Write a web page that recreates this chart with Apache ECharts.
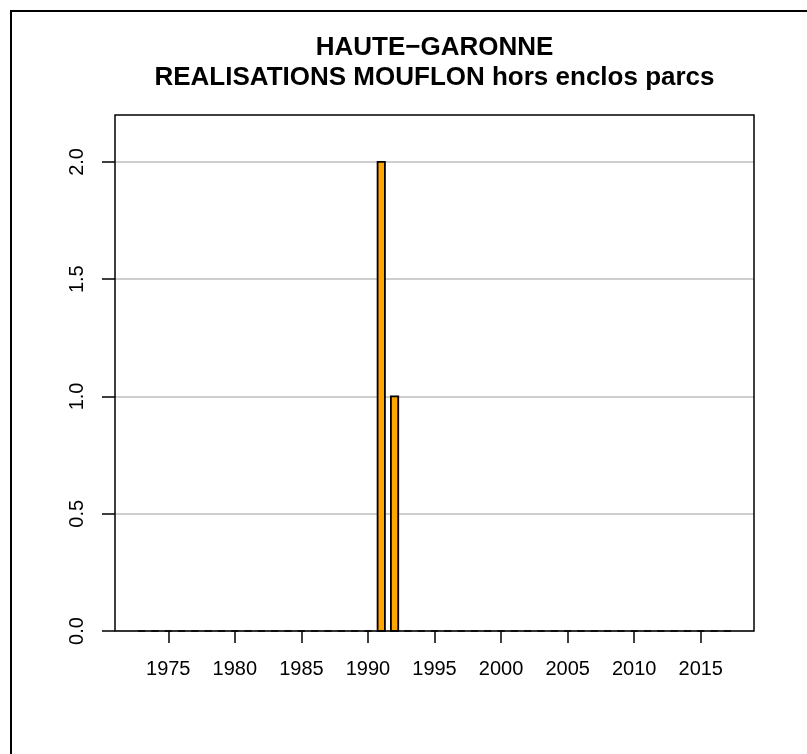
<!DOCTYPE html>
<html lang="fr">
<head>
    <meta charset="UTF-8">
    <title>HAUTE-GARONNE</title>
    <script src="https://cdn.jsdelivr.net/npm/echarts@6/dist/echarts.min.js"></script>
    <style>
        html, body {
            margin: 0;
            height: 100%;
            background: #fff;
        }
        #app {
            width: 807px;
            height: 754px;
        }
    </style>
</head>
<body>
<div id="app"></div>
<script>
    var titleLines = ['HAUTE\u2212GARONNE', 'REALISATIONS MOUFLON hors enclos parcs'];
    var years = [1973, 1974, 1975, 1976, 1977, 1978, 1979, 1980, 1981, 1982,
        1983, 1984, 1985, 1986, 1987, 1988, 1989, 1990, 1991, 1992,
        1993, 1994, 1995, 1996, 1997, 1998, 1999, 2000, 2001, 2002,
        2003, 2004, 2005, 2006, 2007, 2008, 2009, 2010, 2011, 2012,
        2013, 2014, 2015, 2016, 2017];
    var values = [0, 0, 0, 0, 0, 0, 0, 0, 0, 0,
        0, 0, 0, 0, 0, 0, 0, 0, 2, 1,
        0, 0, 0, 0, 0, 0, 0, 0, 0, 0,
        0, 0, 0, 0, 0, 0, 0, 0, 0, 0,
        0, 0, 0, 0, 0];
    var xTicks = [1975, 1980, 1985, 1990, 1995, 2000, 2005, 2010, 2015];
    var yTicks = [0, 0.5, 1, 1.5, 2];

    var barHalf = 0.275;  // half width of a bar, in years
    var font = 'Liberation Sans, Arial, Helvetica, sans-serif';

    var data = [];
    for (var i = 0; i < years.length; i++) {
        data.push([years[i], values[i]]);
    }

    var plot = {left: 115, top: 115, width: 639, height: 516};

    var option = {
        animation: false,
        backgroundColor: '#fff',
        textStyle: {fontFamily: font},
        grid: {
            left: plot.left,
            top: plot.top,
            width: plot.width,
            height: plot.height,
            containLabel: false
        },
        xAxis: {
            type: 'value',
            min: 1971,
            max: 2019,
            axisLine: {show: false},
            axisTick: {
                show: true,
                length: 12,
                customValues: xTicks,
                lineStyle: {color: '#000', width: 1.5}
            },
            axisLabel: {
                customValues: xTicks,
                margin: 28,
                color: '#000',
                fontSize: 20,
                fontFamily: font,
                formatter: function (v) { return String(v); }
            },
            splitLine: {show: false}
        },
        yAxis: {
            type: 'value',
            min: 0,
            max: 2.2,
            interval: 0.5,
            axisLine: {show: false},
            axisTick: {
                show: true,
                length: 13,
                customValues: yTicks,
                lineStyle: {color: '#000', width: 1.5}
            },
            axisLabel: {
                customValues: yTicks,
                rotate: 90,
                margin: 28,
                color: '#000',
                fontSize: 20,
                fontFamily: font,
                formatter: function (v) { return v.toFixed(1); }
            },
            splitLine: {
                show: true,
                lineStyle: {color: '#bebebe', width: 1.5}
            }
        },
        series: [{
            type: 'custom',
            data: data,
            z: 5,
            renderItem: function (params, api) {
                var yr = api.value(0);
                var v = api.value(1);
                var p0 = api.coord([yr - barHalf, v]);
                var p1 = api.coord([yr + barHalf, 0]);
                if (v === 0) {
                    return {
                        type: 'line',
                        shape: {x1: p0[0], y1: p1[1], x2: p1[0], y2: p1[1]},
                        style: {stroke: '#000', lineWidth: 1.5}
                    };
                }
                return {
                    type: 'rect',
                    shape: {x: p0[0], y: p0[1], width: p1[0] - p0[0], height: p1[1] - p0[1]},
                    style: {fill: '#FFA500', stroke: '#000', lineWidth: 1.8}
                };
            }
        }],
        graphic: [
            {
                type: 'rect',
                z: 100,
                silent: true,
                shape: {x: plot.left, y: plot.top, width: plot.width, height: plot.height},
                style: {fill: null, stroke: '#000', lineWidth: 1.5}
            },
            {
                type: 'rect',
                z: 100,
                silent: true,
                shape: {x: 11, y: 11, width: 1000, height: 1000},
                style: {fill: null, stroke: '#000', lineWidth: 2}
            },
            {
                type: 'text',
                z: 100,
                x: plot.left + plot.width / 2,
                y: 48,
                style: {
                    text: titleLines[0],
                    fontFamily: font,
                    fontWeight: 'bold',
                    fontSize: 26,
                    fill: '#000',
                    align: 'center',
                    verticalAlign: 'middle'
                }
            },
            {
                type: 'text',
                z: 100,
                x: plot.left + plot.width / 2,
                y: 78,
                style: {
                    text: titleLines[1],
                    fontFamily: font,
                    fontWeight: 'bold',
                    fontSize: 26,
                    fill: '#000',
                    align: 'center',
                    verticalAlign: 'middle'
                }
            }
        ]
    };

    var myChart = echarts.init(document.getElementById('app'));
    myChart.setOption(option);
</script>
</body>
</html>
